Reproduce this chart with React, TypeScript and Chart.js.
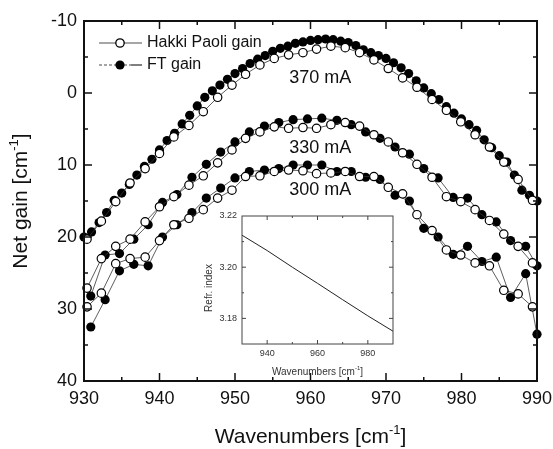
import React, { useEffect, useRef } from 'react';
import { Chart, registerables } from 'chart.js';
Chart.register(...registerables);

const FONT = 'Liberation Sans, Arial, Helvetica, sans-serif';

// Hakki-Paoli sample positions (cm-1)
const hpWn = [930.4, 932.3, 934.2, 936.1, 938.1, 940.0, 941.9, 943.9, 945.8, 947.7, 949.6, 951.4, 953.3, 955.2, 957.1, 959.0, 960.8, 962.7, 964.6, 966.5, 968.4, 970.3, 972.2, 974.1, 976.1, 978.0, 979.9, 981.8, 983.7, 985.6, 987.5, 989.4];
// FT positions for the 330 / 300 mA curves
const ftSparseWn = [930.9, 932.8, 934.7, 936.6, 938.5, 940.4, 942.3, 944.3, 946.2, 948.1, 950.0, 951.9, 953.9, 955.8, 957.7, 959.6, 961.5, 963.5, 965.4, 967.3, 969.2, 971.2, 973.1, 975.0, 976.9, 978.9, 980.8, 982.7, 984.6, 986.5, 988.5, 990.0];
// FT positions for the 370 mA curve
const ftDenseWn = [930, 931, 932, 933, 934, 935, 936, 937, 938, 939, 940, 941, 942, 943, 944, 945, 946, 947, 948, 949, 950, 951, 952, 953, 954, 955, 956, 957, 958, 959, 960, 961, 962, 963, 964, 965, 966, 967, 968, 969, 970, 971, 972, 973, 974, 975, 976, 977, 978, 979, 980, 981, 982, 983, 984, 985, 986, 987, 988, 989, 990];

const hp370 = [20.3, 17.8, 15.1, 12.5, 10.5, 8.4, 6.1, 4.5, 2.6, 0.6, -1.1, -2.6, -3.9, -4.8, -5.3, -5.6, -6.1, -6.5, -6.3, -5.6, -4.6, -3.4, -2.1, -0.8, 0.9, 2.4, 4.0, 5.8, 7.5, 9.6, 12.0, 14.9];
const hp330 = [27.1, 23.0, 21.3, 20.3, 17.9, 15.8, 14.4, 12.8, 11.5, 9.7, 7.9, 6.3, 5.4, 4.7, 4.9, 4.8, 4.9, 4.4, 4.1, 4.6, 5.8, 6.8, 8.3, 9.9, 11.7, 14.4, 15.1, 16.2, 17.7, 19.6, 21.3, 23.6];
const hp300 = [29.7, 27.8, 23.7, 23.0, 22.8, 20.5, 18.3, 17.4, 16.2, 14.6, 13.5, 11.6, 11.5, 10.9, 10.7, 10.8, 11.2, 11.1, 10.9, 11.6, 11.6, 13.1, 14.0, 16.9, 19.1, 21.8, 22.5, 23.6, 24.0, 27.4, 27.9, 29.7];

const ft370 = [20.0, 19.3, 18.0, 16.6, 14.9, 13.9, 12.7, 11.4, 10.2, 9.2, 7.9, 6.6, 5.6, 4.3, 3.1, 1.8, 0.6, -0.3, -1.1, -1.9, -2.7, -3.4, -4.1, -4.7, -5.2, -5.8, -6.2, -6.5, -6.9, -7.1, -7.3, -7.4, -7.5, -7.4, -7.2, -7.0, -6.6, -6.0, -5.6, -5.2, -4.8, -4.2, -3.5, -2.7, -1.7, -0.7, 0.1, 0.9, 1.9, 2.8, 3.6, 4.4, 5.2, 6.5, 7.6, 8.7, 9.6, 11.4, 13.5, 14.2, 15.0];
const ft330 = [28.2, 22.5, 22.3, 20.3, 18.3, 15.2, 14.1, 11.7, 9.9, 8.2, 6.8, 5.4, 4.6, 4.1, 3.7, 3.6, 3.5, 3.8, 4.4, 5.4, 6.3, 7.5, 8.5, 10.5, 11.8, 14.5, 14.6, 16.9, 17.9, 20.5, 21.3, 24.0];
const ft300 = [32.5, 28.7, 24.7, 23.8, 24.0, 20.0, 18.3, 16.6, 14.6, 13.2, 11.8, 10.9, 10.7, 10.5, 10.0, 10.0, 10.0, 10.9, 10.9, 11.7, 12.0, 14.2, 15.0, 18.8, 20.0, 22.4, 21.3, 23.4, 22.8, 28.4, 25.1, 33.5];

const currentLabels = ['370 mA', '330 mA', '300 mA'];
const currentLabelPos = [{ x: 961.3, y: -2.1 }, { x: 961.3, y: 7.6 }, { x: 961.3, y: 13.5 }];

const legendLabels = ['Hakki Paoli gain', 'FT gain'];

const xTicks = [930, 940, 950, 960, 970, 980, 990];
const yTicks = [-10, 0, 10, 20, 30, 40];

// inset
const refrWn = [930, 940, 950, 960, 970, 980, 990];
const refrIndex = [3.2125, 3.2065, 3.2, 3.1937, 3.1873, 3.181, 3.175];
const insetXTicks = [940, 960, 980];
const insetYTicks = [3.18, 3.2, 3.22];

function pts(xs: number[], ys: number[]) {
  return xs.map((x, i) => ({ x, y: ys[i] }));
}

function drawSup(ctx: CanvasRenderingContext2D, base: string, sup: string, tail: string, x: number, y: number, size: number) {
  // centered text with superscript, baseline middle at y
  ctx.font = `${size}px ${FONT}`;
  const w1 = ctx.measureText(base).width;
  const w3 = ctx.measureText(tail).width;
  ctx.font = `${Math.round(size * 0.62)}px ${FONT}`;
  const w2 = ctx.measureText(sup).width;
  const total = w1 + w2 + w3;
  let cx = x - total / 2;
  ctx.textAlign = 'left';
  ctx.textBaseline = 'middle';
  ctx.font = `${size}px ${FONT}`;
  ctx.fillText(base, cx, y);
  cx += w1;
  ctx.font = `${Math.round(size * 0.62)}px ${FONT}`;
  ctx.fillText(sup, cx, y - size * 0.32);
  cx += w2;
  ctx.font = `${size}px ${FONT}`;
  ctx.fillText(tail, cx, y);
}

function innerTicks(ctx: CanvasRenderingContext2D, chart: any, xs: number[], ys: number[], majX: (v: number) => boolean, majY: (v: number) => boolean, maj: number, min: number) {
  const { left, right, top, bottom } = chart.chartArea;
  const sx = chart.scales.x;
  const sy = chart.scales.y;
  ctx.beginPath();
  xs.forEach((v) => {
    const p = sx.getPixelForValue(v);
    const l = majX(v) ? maj : min;
    ctx.moveTo(p, bottom); ctx.lineTo(p, bottom - l);
    ctx.moveTo(p, top); ctx.lineTo(p, top + l);
  });
  ys.forEach((v) => {
    const p = sy.getPixelForValue(v);
    const l = majY(v) ? maj : min;
    ctx.moveTo(left, p); ctx.lineTo(left + l, p);
    ctx.moveTo(right, p); ctx.lineTo(right - l, p);
  });
  ctx.stroke();
}

const mainDecor = {
  id: 'mainDecor',
  afterDraw(chart: any) {
    const ctx: CanvasRenderingContext2D = chart.ctx;
    const { left, right, top, bottom } = chart.chartArea;
    const sx = chart.scales.x;
    const sy = chart.scales.y;
    ctx.save();
    ctx.strokeStyle = '#111';
    ctx.lineWidth = 2;
    ctx.strokeRect(left, top, right - left, bottom - top);
    ctx.lineWidth = 1.5;
    const xs: number[] = [];
    for (let v = 935; v < 990; v += 5) xs.push(v);
    const ys: number[] = [];
    for (let v = -5; v < 40; v += 5) ys.push(v);
    innerTicks(ctx, chart, xs, ys, (v) => v % 10 === 0, (v) => v % 10 === 0, 8, 4);

    // current labels
    ctx.fillStyle = '#111';
    ctx.font = `18px ${FONT}`;
    ctx.textAlign = 'center';
    ctx.textBaseline = 'middle';
    currentLabels.forEach((t, i) => {
      ctx.fillText(t, sx.getPixelForValue(currentLabelPos[i].x), sy.getPixelForValue(currentLabelPos[i].y));
    });

    // legend
    const lx = left + 15;
    const ly1 = top + 22;
    const ly2 = top + 44;
    ctx.lineWidth = 1.5;
    ctx.strokeStyle = '#888';
    ctx.beginPath(); ctx.moveTo(lx, ly1); ctx.lineTo(lx + 43, ly1); ctx.stroke();
    ctx.setLineDash([3, 2]);
    ctx.beginPath(); ctx.moveTo(lx, ly2); ctx.lineTo(lx + 32, ly2); ctx.stroke();
    ctx.setLineDash([]);
    ctx.strokeStyle = '#555';
    ctx.beginPath(); ctx.moveTo(lx + 32, ly2); ctx.lineTo(lx + 43, ly2); ctx.stroke();
    ctx.lineWidth = 1.3;
    ctx.strokeStyle = '#000';
    ctx.fillStyle = '#fff';
    ctx.beginPath(); ctx.arc(lx + 21, ly1, 4.2, 0, Math.PI * 2); ctx.fill(); ctx.stroke();
    ctx.fillStyle = '#000';
    ctx.beginPath(); ctx.arc(lx + 21, ly2, 4.6, 0, Math.PI * 2); ctx.fill();
    ctx.font = `16px ${FONT}`;
    ctx.textAlign = 'left';
    ctx.fillStyle = '#111';
    ctx.fillText(legendLabels[0], lx + 48, ly1);
    ctx.fillText(legendLabels[1], lx + 48, ly2);

    // axis titles
    drawSup(ctx, 'Wavenumbers [cm', '-1', ']', (left + right) / 2, 437, 21);
    ctx.save();
    ctx.translate(21, (top + bottom) / 2);
    ctx.rotate(-Math.PI / 2);
    drawSup(ctx, 'Net gain [cm', '-1', ']', 0, 0, 21);
    ctx.restore();
    ctx.restore();
  },
};

const insetDecor = {
  id: 'insetDecor',
  afterDraw(chart: any) {
    const ctx: CanvasRenderingContext2D = chart.ctx;
    const { left, right, top, bottom } = chart.chartArea;
    ctx.save();
    ctx.strokeStyle = '#444';
    ctx.lineWidth = 1;
    ctx.strokeRect(left, top, right - left, bottom - top);
    innerTicks(ctx, chart, [940, 950, 960, 970, 980], [3.18, 3.19, 3.2, 3.21], (v) => v % 20 === 0, (v) => Math.round(v * 100) % 2 === 0, 4, 2);
    ctx.fillStyle = '#333';
    drawSup(ctx, 'Wavenumbers [cm', '-1', ']', (left + right) / 2, 167, 10);
    ctx.save();
    ctx.translate(14, (top + bottom) / 2 + 8);
    ctx.rotate(-Math.PI / 2);
    ctx.font = `10px ${FONT}`;
    ctx.textAlign = 'center';
    ctx.textBaseline = 'middle';
    ctx.fillText('Refr. index', 0, 0);
    ctx.restore();
    ctx.restore();
  },
};

export default function App() {
  const mainRef = useRef<HTMLCanvasElement>(null);
  const insetRef = useRef<HTMLCanvasElement>(null);

  useEffect(() => {
    const hpStyle = {
      showLine: true,
      borderColor: '#333',
      borderWidth: 0.8,
      pointStyle: 'circle',
      pointRadius: 4.2,
      pointBackgroundColor: '#fff',
      pointBorderColor: '#000',
      pointBorderWidth: 1.2,
      clip: false as any,
    };
    const ftStyle = {
      showLine: true,
      borderColor: '#333',
      borderWidth: 0.8,
      pointStyle: 'circle',
      pointRadius: 4.6,
      pointBackgroundColor: '#000',
      pointBorderColor: '#000',
      pointBorderWidth: 0,
      clip: false as any,
    };
    const main = new Chart(mainRef.current!, {
      type: 'line',
      data: {
        datasets: [
          { label: 'HP 300', data: pts(hpWn, hp300), ...hpStyle },
          { label: 'HP 330', data: pts(hpWn, hp330), ...hpStyle },
          { label: 'HP 370', data: pts(hpWn, hp370), ...hpStyle },
          { label: 'FT 300', data: pts(ftSparseWn, ft300), ...ftStyle },
          { label: 'FT 330', data: pts(ftSparseWn, ft330), ...ftStyle },
          { label: 'FT 370', data: pts(ftDenseWn, ft370), ...ftStyle },
        ] as any,
      },
      options: {
        animation: false,
        responsive: false,
        maintainAspectRatio: false,
        layout: { padding: { top: 21, right: 16, left: 0, bottom: 0 } },
        plugins: { legend: { display: false }, tooltip: { enabled: false } },
        scales: {
          x: {
            type: 'linear',
            min: 930,
            max: 990,
            afterBuildTicks: (s: any) => { s.ticks = xTicks.map((value) => ({ value })); },
            ticks: { font: { family: FONT, size: 18 }, color: '#111', padding: 7, maxRotation: 0, autoSkip: false },
            grid: { display: false, drawTicks: false },
            border: { display: false },
            afterFit: (s: any) => { s.height = 68; s.paddingLeft = 0; s.paddingRight = 0; },
          },
          y: {
            type: 'linear',
            min: -10,
            max: 40,
            reverse: true,
            afterBuildTicks: (s: any) => { s.ticks = yTicks.map((value) => ({ value })); },
            ticks: { font: { family: FONT, size: 18 }, color: '#111', padding: 7 },
            grid: { display: false, drawTicks: false },
            border: { display: false },
            afterFit: (s: any) => { s.width = 84; s.paddingTop = 0; s.paddingBottom = 0; },
          },
        },
      } as any,
      plugins: [mainDecor],
    });

    const inset = new Chart(insetRef.current!, {
      type: 'line',
      data: {
        datasets: [
          { label: 'Refr. index', data: pts(refrWn, refrIndex), borderColor: '#222', borderWidth: 1, pointRadius: 0, showLine: true },
        ] as any,
      },
      options: {
        animation: false,
        responsive: false,
        maintainAspectRatio: false,
        layout: { padding: { top: 11, right: 7, left: 0, bottom: 0 } },
        plugins: { legend: { display: false }, tooltip: { enabled: false } },
        scales: {
          x: {
            type: 'linear',
            min: 930,
            max: 990,
            afterBuildTicks: (s: any) => { s.ticks = insetXTicks.map((value) => ({ value })); },
            ticks: { font: { family: FONT, size: 9 }, color: '#333', padding: 4, maxRotation: 0, autoSkip: false },
            grid: { display: false, drawTicks: false },
            border: { display: false },
            afterFit: (s: any) => { s.height = 36; s.paddingLeft = 0; s.paddingRight = 0; },
          },
          y: {
            type: 'linear',
            min: 3.17,
            max: 3.22,
            afterBuildTicks: (s: any) => { s.ticks = insetYTicks.map((value) => ({ value })); },
            ticks: { font: { family: FONT, size: 9 }, color: '#333', padding: 5, callback: (v: any) => Number(v).toFixed(2) },
            grid: { display: false, drawTicks: false },
            border: { display: false },
            afterFit: (s: any) => { s.width = 47; s.paddingTop = 0; s.paddingBottom = 0; },
          },
        },
      } as any,
      plugins: [insetDecor],
    });

    return () => {
      main.destroy();
      inset.destroy();
    };
  }, []);

  return (
    <div style={{ position: 'absolute', left: 0, top: 0, width: 553, height: 449, background: '#fff' }}>
      <canvas ref={mainRef} width={553} height={449} style={{ position: 'absolute', left: 0, top: 0, width: 553, height: 449 }} />
      <canvas ref={insetRef} width={205} height={175} style={{ position: 'absolute', left: 195, top: 205, width: 205, height: 175 }} />
    </div>
  );
}
